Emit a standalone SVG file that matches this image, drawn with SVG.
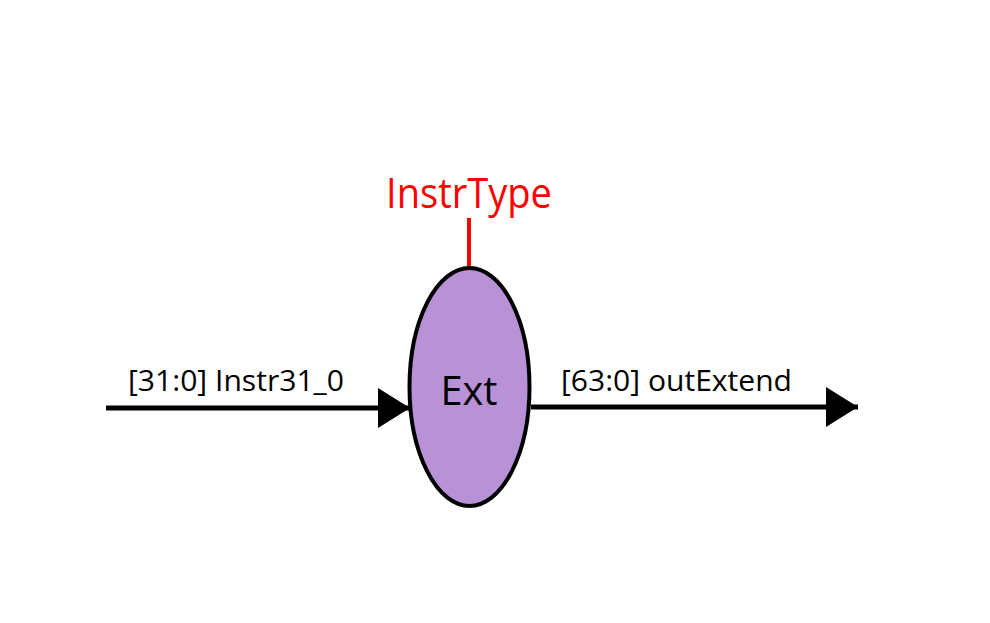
<svg xmlns="http://www.w3.org/2000/svg" width="990" height="623" viewBox="0 0 990 623">
<style>
.wire{stroke:#000;stroke-width:5;fill:none}
.lbl{font-family:"Open Sans","Liberation Sans",sans-serif;font-size:29px;fill:#000}
</style>
<defs>
<marker id="ah" markerUnits="userSpaceOnUse" markerWidth="34" markerHeight="40" refX="32" refY="20" orient="auto">
<path d="M0,0 L32,20 L0,40 Z" fill="#000"/>
</marker>
</defs>
<rect width="990" height="623" fill="#fff"/>
<g id="connectors">
<line class="wire" x1="106" y1="408" x2="410" y2="408" marker-end="url(#ah)"/>
<line class="wire" x1="531" y1="407" x2="858" y2="407" marker-end="url(#ah)"/>
<line x1="469" y1="218" x2="469" y2="268" stroke="#f00" stroke-width="4"/>
</g>
<g id="ext">
<ellipse cx="469.5" cy="387" rx="60" ry="119" fill="#b891d6" stroke="#000" stroke-width="4"/>
<text x="469" y="405" text-anchor="middle" font-family="Open Sans, Liberation Sans, sans-serif" font-size="40" fill="#000" textLength="57" lengthAdjust="spacingAndGlyphs">Ext</text>
</g>
<g id="instrtype">
<text x="469" y="208" text-anchor="middle" font-family="Open Sans, Liberation Sans, sans-serif" font-size="42" fill="#f00" textLength="166" lengthAdjust="spacingAndGlyphs">InstrType</text>
</g>
<g id="labels">
<text class="lbl" x="128" y="391" textLength="216" lengthAdjust="spacingAndGlyphs">[31:0] Instr31_0</text>
<text class="lbl" x="561" y="391" textLength="231" lengthAdjust="spacingAndGlyphs">[63:0] outExtend</text>
</g>
</svg>
